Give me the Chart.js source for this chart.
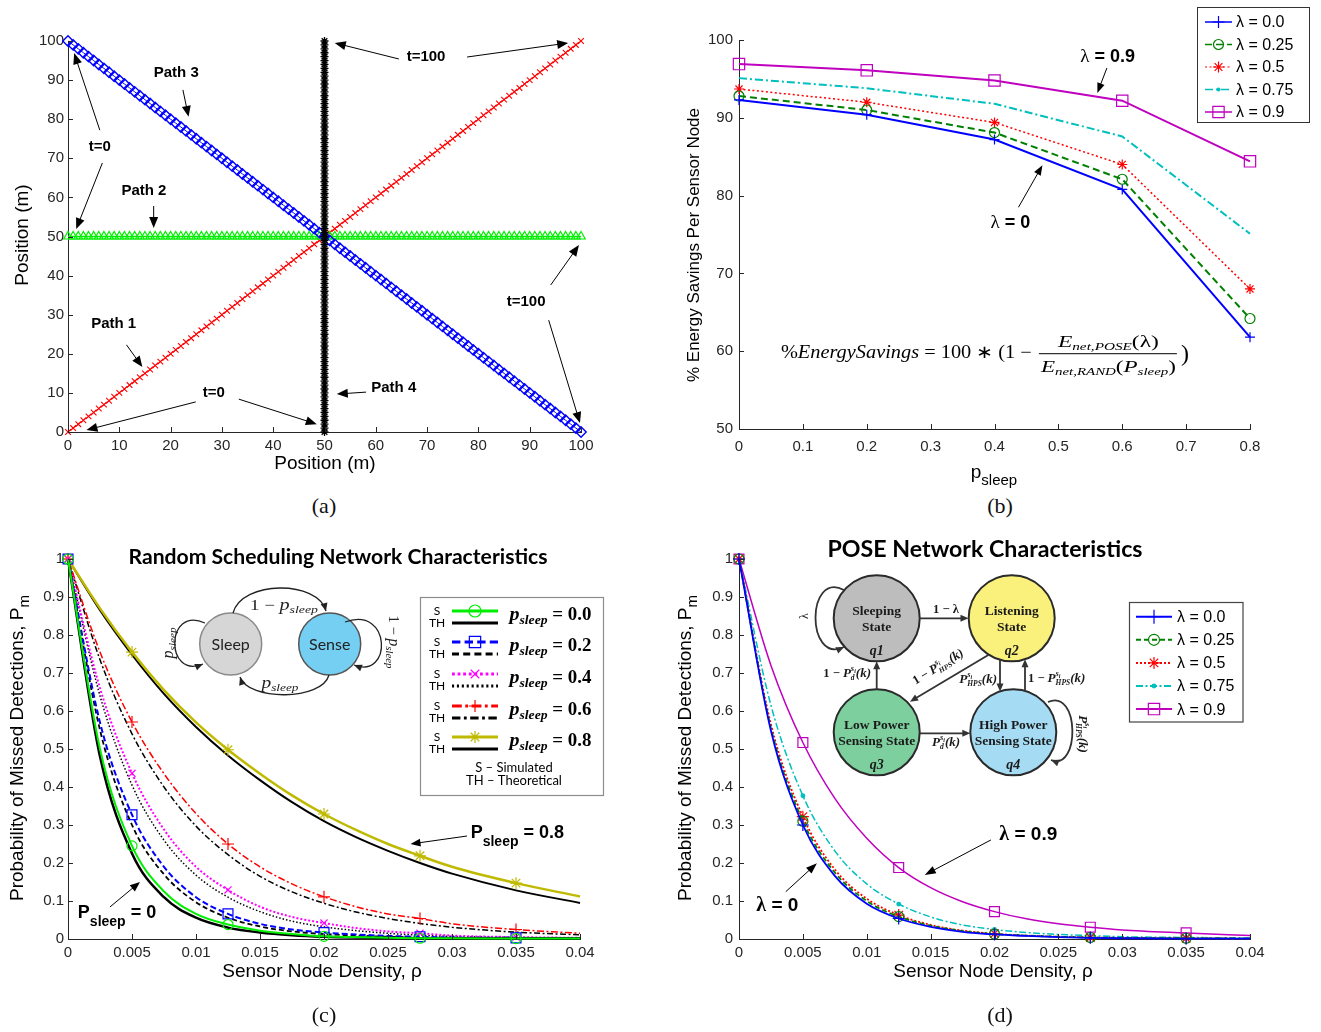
<!DOCTYPE html>
<html>
<head>
<meta charset="utf-8">
<title>Sensor network figures</title>
<script src="https://cdn.jsdelivr.net/npm/chart.js@4.4.1/dist/chart.umd.min.js"></script>
<style>
  html, body { margin: 0; padding: 0; background: #fff; }
  body { position: relative; width: 1321px; height: 1032px; overflow: hidden; }
  canvas { position: absolute; }
  .cap { position: absolute; font: 22px "Liberation Serif", "Times New Roman", serif; line-height: 1; transform: translate(-50%, -50%); color: #111; }
</style>
</head>
<body>
<canvas id="chartA" width="660" height="490" style="left:0;top:0"></canvas>
<canvas id="chartB" width="661" height="490" style="left:660px;top:0"></canvas>
<canvas id="chartC" width="660" height="512" style="left:0;top:520px"></canvas>
<canvas id="chartD" width="661" height="512" style="left:660px;top:520px"></canvas>
<div class="cap" style="left:324px;top:506px">(a)</div>
<div class="cap" style="left:1000px;top:506px">(b)</div>
<div class="cap" style="left:324px;top:1015px">(c)</div>
<div class="cap" style="left:1000px;top:1015px">(d)</div>
<script>
// ---- (a) target tracks: position sampled at t = 0..100 ----
const trackPos = [0,1,2,3,4,5,6,7,8,9,10,11,12,13,14,15,16,17,18,19,20,21,22,23,24,25,26,27,28,29,30,31,32,33,34,35,36,37,38,39,40,41,42,43,44,45,46,47,48,49,50,51,52,53,54,55,56,57,58,59,60,61,62,63,64,65,66,67,68,69,70,71,72,73,74,75,76,77,78,79,80,81,82,83,84,85,86,87,88,89,90,91,92,93,94,95,96,97,98,99,100];
const midLine = 50;
const posTicks = [0, 10, 20, 30, 40, 50, 60, 70, 80, 90, 100];

// ---- (b) energy savings ----
const pSleep = [0, 0.2, 0.4, 0.6, 0.8];
const saveLam00 = [92.3, 90.4, 87.2, 80.8, 61.8];
const saveLam025 = [92.8, 91.0, 88.1, 82.1, 64.2];
const saveLam05 = [93.7, 92.0, 89.4, 84.0, 68.0];
const saveLam075 = [95.1, 93.8, 91.8, 87.6, 75.1];
const saveLam09 = [96.9, 96.1, 94.8, 92.2, 84.4];
const pSleepTicks = [0, 0.1, 0.2, 0.3, 0.4, 0.5, 0.6, 0.7, 0.8];
const saveTicks = [50, 60, 70, 80, 90, 100];
const lamLabels = ['λ = 0.0', 'λ = 0.25', 'λ = 0.5', 'λ = 0.75', 'λ = 0.9'];

// ---- (c),(d) missed detections vs density ----
const density = [0, 0.0025, 0.005, 0.0075, 0.01, 0.0125, 0.015, 0.0175, 0.02, 0.0225, 0.025, 0.0275, 0.03, 0.035, 0.04];
const markerDensity = [0, 0.005, 0.0125, 0.02, 0.0275, 0.035];
const simP00 = [1, 0.50, 0.245, 0.125, 0.066, 0.038, 0.022, 0.013, 0.007, 0.005, 0.003, 0.002, 0.002, 0.001, 0.001];
const thP00  = [1, 0.48, 0.225, 0.110, 0.056, 0.030, 0.017, 0.010, 0.006, 0.004, 0.003, 0.002, 0.001, 0.001, 0.001];
const simP02 = [1, 0.57, 0.327, 0.190, 0.110, 0.066, 0.040, 0.025, 0.017, 0.012, 0.008, 0.006, 0.004, 0.003, 0.002];
const thP02  = [1, 0.55, 0.300, 0.170, 0.097, 0.056, 0.033, 0.020, 0.013, 0.009, 0.006, 0.004, 0.003, 0.002, 0.001];
const simP04 = [1, 0.66, 0.436, 0.288, 0.190, 0.129, 0.085, 0.058, 0.042, 0.029, 0.020, 0.015, 0.009, 0.005, 0.003];
const thP04  = [1, 0.64, 0.405, 0.260, 0.168, 0.110, 0.072, 0.047, 0.032, 0.022, 0.015, 0.010, 0.007, 0.004, 0.002];
const simP06 = [1, 0.755, 0.571, 0.435, 0.330, 0.250, 0.190, 0.145, 0.111, 0.085, 0.066, 0.054, 0.040, 0.025, 0.015];
const thP06  = [1, 0.735, 0.540, 0.400, 0.297, 0.222, 0.165, 0.124, 0.094, 0.071, 0.054, 0.041, 0.031, 0.018, 0.011];
const simP08 = [1, 0.870, 0.755, 0.655, 0.570, 0.498, 0.435, 0.378, 0.329, 0.287, 0.250, 0.219, 0.190, 0.147, 0.112];
const thP08  = [1, 0.865, 0.748, 0.645, 0.558, 0.483, 0.418, 0.360, 0.310, 0.268, 0.232, 0.200, 0.172, 0.128, 0.095];
const poseLam00  = [1, 0.548, 0.300, 0.166, 0.093, 0.054, 0.032, 0.019, 0.012, 0.008, 0.005, 0.003, 0.002, 0.001, 0.001];
const poseLam025 = [1, 0.555, 0.310, 0.175, 0.100, 0.059, 0.035, 0.021, 0.013, 0.009, 0.006, 0.004, 0.003, 0.002, 0.001];
const poseLam05  = [1, 0.565, 0.322, 0.183, 0.106, 0.063, 0.037, 0.022, 0.014, 0.009, 0.006, 0.004, 0.003, 0.002, 0.001];
const poseLam075 = [1, 0.615, 0.377, 0.232, 0.145, 0.092, 0.058, 0.037, 0.025, 0.017, 0.012, 0.009, 0.006, 0.004, 0.003];
const poseLam09  = [1, 0.720, 0.517, 0.370, 0.265, 0.188, 0.135, 0.098, 0.072, 0.053, 0.040, 0.031, 0.024, 0.016, 0.009];
const densityTicks = [0, 0.005, 0.01, 0.015, 0.02, 0.025, 0.03, 0.035, 0.04];
const pmTicks = [0, 0.1, 0.2, 0.3, 0.4, 0.5, 0.6, 0.7, 0.8, 0.9, 1];
const sleepLabels = ['0.0', '0.2', '0.4', '0.6', '0.8'];

const SANS = '"Liberation Sans", Arial, sans-serif';
const SERIF = '"Liberation Serif", "Times New Roman", serif';
const CAL = 'Lato, "Open Sans", sans-serif';
const INK = '#262626';
const NONE = 'rgba(0,0,0,0)';

// ---------- drawing helpers ----------
function txt(ctx, s, x, y, font, o = {}) {
    ctx.save();
    ctx.font = font; ctx.fillStyle = o.color || '#000';
    ctx.textAlign = o.align || 'left'; ctx.textBaseline = o.base || 'alphabetic';
    ctx.translate(x, y);
    if (o.rot) ctx.rotate(o.rot);
    if (o.w) ctx.scale(o.w / ctx.measureText(s).width, 1);
    ctx.fillText(s, 0, 0);
    ctx.restore();
}

// segments: {t, f, dy, mark, back}
function rich(ctx, segs, x, y, o = {}) {
    ctx.save();
    ctx.fillStyle = o.color || '#000'; ctx.textAlign = 'left'; ctx.textBaseline = 'alphabetic';
    let cx = 0, mark = 0, maxX = 0;
    const placed = segs.map(s => {
        ctx.font = s.f;
        const w = ctx.measureText(s.t).width;
        if (s.back) cx = mark;
        if (s.mark) mark = cx;
        const at = cx;
        cx += w; maxX = Math.max(maxX, cx);
        if (s.back) cx = maxX;
        return { s, at };
    });
    ctx.translate(x, y);
    if (o.rot) ctx.rotate(o.rot);
    if (o.w) ctx.scale(o.w / maxX, 1);
    const off = o.align === 'center' ? -maxX / 2 : o.align === 'right' ? -maxX : 0;
    placed.forEach(p => { ctx.font = p.s.f; ctx.fillText(p.s.t, off + p.at, p.s.dy || 0); });
    ctx.restore();
}

function head(ctx, x, y, ang, len, half) {
    const c = Math.cos(ang), s = Math.sin(ang);
    ctx.beginPath(); ctx.moveTo(x, y);
    ctx.lineTo(x - len * c - half * s, y - len * s + half * c);
    ctx.lineTo(x - len * c + half * s, y - len * s - half * c);
    ctx.closePath(); ctx.fill();
}
function arrow(ctx, x1, y1, x2, y2, len = 10, half = 3.8) {
    const ang = Math.atan2(y2 - y1, x2 - x1);
    ctx.beginPath(); ctx.moveTo(x1, y1);
    ctx.lineTo(x2 - 0.7 * len * Math.cos(ang), y2 - 0.7 * len * Math.sin(ang)); ctx.stroke();
    head(ctx, x2, y2, ang, len, half);
}
function bez(ctx, q, len = 8, half = 3.5) {
    ctx.beginPath(); ctx.moveTo(q[0], q[1]); ctx.bezierCurveTo(q[2], q[3], q[4], q[5], q[6], q[7]); ctx.stroke();
    head(ctx, q[6], q[7], Math.atan2(q[7] - q[5], q[6] - q[4]), len, half);
}
function circle(ctx, x, y, r, fill, stroke, lw) {
    ctx.save(); ctx.beginPath(); ctx.arc(x, y, r, 0, Math.PI * 2);
    ctx.fillStyle = fill; ctx.fill(); ctx.strokeStyle = stroke; ctx.lineWidth = lw; ctx.stroke(); ctx.restore();
}
function pix(chart) {
    const { x, y } = chart.scales;
    return (a, b) => [x.getPixelForValue(a), y.getPixelForValue(b)];
}
function sample(ctx, ds, x0, x1, y, r, lw, dashScale = 1) {
    ctx.save();
    ctx.strokeStyle = ds.borderColor; ctx.lineWidth = lw;
    ctx.setLineDash((ds.borderDash || []).map(v => v * dashScale));
    ctx.beginPath(); ctx.moveTo(x0, y); ctx.lineTo(x1, y); ctx.stroke();
    ctx.setLineDash([]);
    if (r) {
        ctx.strokeStyle = ds.pointBorderColor; ctx.fillStyle = ds.pointBackgroundColor;
        ctx.lineWidth = ds.pointBorderWidth;
        Chart.helpers.drawPoint(ctx, { pointStyle: ds.pointStyle, radius: r, rotation: 0, borderWidth: ds.pointBorderWidth }, (x0 + x1) / 2, y);
    }
    ctx.restore();
}

// MATLAB style: ticks point into the axes
const inTicks = {
    id: 'inTicks',
    afterDraw(chart) {
        const { ctx, chartArea: a, scales: { x, y } } = chart;
        ctx.save(); ctx.strokeStyle = INK; ctx.lineWidth = 1; ctx.beginPath();
        x.ticks.forEach(t => { const px = Math.round(x.getPixelForValue(t.value)) + 0.5; ctx.moveTo(px, a.bottom); ctx.lineTo(px, a.bottom - 5); });
        y.ticks.forEach(t => { const py = Math.round(y.getPixelForValue(t.value)) + 0.5; ctx.moveTo(a.left, py); ctx.lineTo(a.left + 5, py); });
        ctx.stroke(); ctx.restore();
    }
};

function axis(min, max, tickVals, size, horiz, pad) {
    return {
        type: 'linear', min, max,
        afterBuildTicks: s => { s.ticks = tickVals.map(v => ({ value: v })); },
        afterFit: s => { if (horiz) s.height = size; else s.width = size; },
        grid: { drawOnChartArea: false, drawTicks: false },
        border: { display: true, color: INK, width: 1 },
        ticks: { color: INK, padding: pad, autoSkip: false, maxRotation: 0, minRotation: 0,
                 font: { family: SANS, size: 15 }, callback: v => String(+v.toFixed(4)) }
    };
}

function series(xs, ys, o) {
    return {
        data: xs.map((x, i) => ({ x, y: ys[i] })),
        borderColor: o.color, borderWidth: o.lw || 1.5, borderDash: o.dash || [],
        cubicInterpolationMode: o.smooth ? 'monotone' : 'default', tension: 0,
        pointStyle: o.mark || 'circle',
        pointRadius: o.at ? (c => o.at.includes(xs[c.dataIndex]) ? o.r : 0) : (o.r || 0),
        pointBorderColor: o.color, pointBackgroundColor: o.fillPt ? o.color : NONE,
        pointBorderWidth: o.pw || 1.2, pointHoverRadius: 0, fill: false, clip: false
    };
}

function makeChart(id, pad, xs, ys, datasets, deco) {
    return new Chart(document.getElementById(id), {
        type: 'line',
        data: { datasets },
        options: {
            responsive: false, animation: false, devicePixelRatio: 1, events: [],
            layout: { padding: pad },
            plugins: { legend: { display: false }, tooltip: { enabled: false } },
            scales: { x: xs, y: ys }
        },
        plugins: [inTicks, { id: 'deco', afterDraw: deco }]
    });
}

// ---------- (a) ----------
function drawA(chart) {
    const ctx = chart.ctx, p = pix(chart);
    txt(ctx, 'Position (m)', 23, 235, `19px ${SANS}`, { align: 'center', base: 'middle', rot: -Math.PI / 2 });
    txt(ctx, 'Position (m)', 325, 464, `19px ${SANS}`, { align: 'center', base: 'middle' });
    const notes = [['Path 3', 21.1, 91.8], ['t=0', 6.2, 72.9], ['Path 2', 14.8, 61.6], ['Path 1', 8.9, 27.6],
                   ['t=0', 28.4, 10.0], ['Path 4', 63.5, 11.3], ['t=100', 69.8, 95.9], ['t=100', 89.3, 33.2]];
    notes.forEach(n => { const [x, y] = p(n[1], n[2]); txt(ctx, n[0], x, y, `bold 15px ${SANS}`, { align: 'center', base: 'middle' }); });
    const arrows = [[22.4, 87.5, 23.5, 80.6], [6.2, 77.2, 1.2, 96.9], [6.7, 68.8, 1.6, 51.9], [16.7, 57.8, 16.7, 52.2],
                    [11.4, 22.3, 14.5, 16.6], [24.9, 7.7, 3.6, 0.5], [33.3, 8.4, 48.5, 2.0], [58.1, 10.2, 52.4, 9.7],
                    [64.5, 95.4, 52.0, 99.5], [77.8, 95.9, 97.5, 99.5], [94.1, 37.6, 99.6, 47.8], [93.7, 28.6, 99.8, 2.3]];
    ctx.save(); ctx.strokeStyle = '#000'; ctx.fillStyle = '#000'; ctx.lineWidth = 1;
    arrows.forEach(a => { const [x1, y1] = p(a[0], a[1]); const [x2, y2] = p(a[2], a[3]); arrow(ctx, x1, y1, x2, y2, 11, 4.5); });
    ctx.restore();
}
const pathStyle = (data, color, style, r, lw, pw) => ({
    data, borderColor: color, borderWidth: lw, pointStyle: style, pointRadius: r, pointBorderColor: color,
    pointBackgroundColor: NONE, pointBorderWidth: pw, pointHoverRadius: 0, tension: 0, fill: false, clip: false
});
makeChart('chartA', { left: 8, top: 41, right: 79, bottom: 18 },
    axis(0, 100, posTicks, 40, true, 5), axis(0, 100, posTicks, 60, false, 4), [
        pathStyle(trackPos.map(t => ({ x: midLine, y: t })), '#000000', 'star', 4, 1, 1.3),
        pathStyle(trackPos.map((t, i) => ({ x: t, y: trackPos[trackPos.length - 1 - i] })), '#0000ff', 'rectRot', 5.2, 1, 1.4),
        pathStyle(trackPos.map(t => ({ x: t, y: midLine })), '#00ee00', 'triangle', 5, 1.5, 1.2),
        pathStyle(trackPos.map(t => ({ x: t, y: t })), '#ff0000', 'crossRot', 4, 1, 1.1)
    ], drawA);

// ---------- (b) ----------
const lamStyles = [
    { color: '#0000ff', lw: 2, mark: 'cross', r: 5, lr: 6 },
    { color: '#008000', lw: 2, dash: [7, 4], mark: 'circle', r: 5, lr: 5 },
    { color: '#ff0000', lw: 1.5, dash: [2, 2.5], mark: 'star', r: 5, lr: 5.5 },
    { color: '#00bfbf', lw: 2, dash: [8, 3, 2, 3], mark: 'circle', r: 0, lr: 1.5, fillPt: true },
    { color: '#bf00bf', lw: 2, mark: 'rect', r: 8, lr: 8 }
];
function drawB(chart) {
    const ctx = chart.ctx, p = pix(chart);
    txt(ctx, '% Energy Savings Per Sensor Node', 34, 245, `17px ${SANS}`, { align: 'center', base: 'middle', rot: -Math.PI / 2 });
    rich(ctx, [{ t: 'p', f: `19px ${SANS}` }, { t: 'sleep', f: `15px ${SANS}`, dy: 7 }], 334, 478, { align: 'center' });
    // legend
    ctx.save(); ctx.fillStyle = '#fff'; ctx.strokeStyle = '#333'; ctx.lineWidth = 1;
    ctx.fillRect(537.5, 7.5, 112, 115); ctx.strokeRect(537.5, 7.5, 112, 115); ctx.restore();
    chart.data.datasets.forEach((ds, i) => {
        const y = 22 + i * 22.5;
        sample(ctx, ds, 545, 572, y, lamStyles[i].lr, ds.borderWidth === 1.5 ? 1.2 : 1.5);
        txt(ctx, lamLabels[i], 576, y + 1, `16px ${SANS}`, { base: 'middle' });
    });
    // annotations
    let [x, y] = p(0.577, 97.2);
    rich(ctx, [{ t: 'λ', f: `19px ${SERIF}` }, { t: ' = 0.9', f: `bold 18px ${SANS}` }], x, y, { align: 'center' });
    [x, y] = p(0.425, 75.8);
    rich(ctx, [{ t: 'λ', f: `19px ${SERIF}` }, { t: ' = 0', f: `bold 18px ${SANS}` }], x, y, { align: 'center' });
    ctx.save(); ctx.strokeStyle = '#000'; ctx.fillStyle = '#000'; ctx.lineWidth = 1;
    let a = p(0.576, 96.4), b = p(0.561, 93.2); arrow(ctx, a[0], a[1], b[0], b[1], 10, 3.8);
    a = p(0.4375, 78.5); b = p(0.475, 83.9); arrow(ctx, a[0], a[1], b[0], b[1], 10, 3.8);
    ctx.restore();
    // formula
    const [fx, fy] = p(0.0656, 59.1);
    const it = s => `italic ${s}px ${SERIF}`, up = s => `${s}px ${SERIF}`;
    rich(ctx, [{ t: '%', f: up(18) }, { t: 'EnergySavings', f: it(18) }, { t: ' = 100 ∗ (1 − ', f: up(18) }], fx, fy, { w: 256 });
    rich(ctx, [{ t: 'E', f: it(17) }, { t: 'net,POSE', f: it(11), dy: 3 }, { t: '(λ)', f: up(17) }], fx + 327.5, fy - 11, { align: 'center', w: 101 });
    ctx.save(); ctx.strokeStyle = '#000'; ctx.lineWidth = 1; ctx.beginPath();
    ctx.moveTo(fx + 258, fy - 4.5); ctx.lineTo(fx + 396, fy - 4.5); ctx.stroke(); ctx.restore();
    rich(ctx, [{ t: 'E', f: it(17) }, { t: 'net,RAND', f: it(11), dy: 3 }, { t: '(', f: up(17) }, { t: 'P', f: it(17) },
               { t: 'sleep', f: it(11), dy: 3 }, { t: ')', f: up(17) }], fx + 327.5, fy + 14, { align: 'center', w: 135 });
    txt(ctx, ')', fx + 400, fy + 3, up(24));
}
makeChart('chartB', { left: 19, top: 40, right: 71, bottom: 21 },
    axis(0, 0.8, pSleepTicks, 40, true, 9), axis(50, 100, saveTicks, 60, false, 6),
    [saveLam00, saveLam025, saveLam05, saveLam075, saveLam09].map((v, i) => series(pSleep, v, lamStyles[i])),
    drawB);

// ---------- (c) ----------
const sleepStyles = [
    { color: '#00ee00', lw: 2, mark: 'circle', r: 5, lr: 6 },
    { color: '#000000', lw: 2.5 },
    { color: '#0000ff', lw: 2, dash: [6, 3], mark: 'rect', r: 7, lr: 8 },
    { color: '#000000', lw: 1.8, dash: [5, 3] },
    { color: '#ff00ff', lw: 2, dash: [2, 2], mark: 'crossRot', r: 5, lr: 6 },
    { color: '#000000', lw: 1.5, dash: [1.5, 2] },
    { color: '#ff0000', lw: 1.5, dash: [7, 2.5, 2, 2.5], mark: 'cross', r: 6, lr: 6 },
    { color: '#000000', lw: 1.5, dash: [6, 2.5, 2, 2.5] },
    { color: '#bfba00', lw: 2.5, mark: 'star', r: 6, lr: 6 },
    { color: '#000000', lw: 2 }
];
function drawC(chart) {
    const ctx = chart.ctx, p = pix(chart);
    txt(ctx, 'Random Scheduling Network Characteristics', 338, 37, `bold 21px ${CAL}`, { align: 'center', base: 'middle', w: 419 });
    rich(ctx, [{ t: 'Probability of Missed Detections, P', f: `19px ${SANS}` }, { t: 'm', f: `15px ${SANS}`, dy: 6 }], 23, 228, { align: 'center', rot: -Math.PI / 2 });
    txt(ctx, 'Sensor Node Density, ρ', 322, 452, `19px ${SANS}`, { align: 'center', base: 'middle' });
    // annotations
    const bf = s => `bold ${s}px ${SANS}`;
    let [x, y] = p(0.03146, 0.265);
    rich(ctx, [{ t: 'P', f: bf(18) }, { t: 'sleep', f: bf(14), dy: 8 }, { t: ' = 0.8', f: bf(18) }], x, y);
    [x, y] = p(0.00077, 0.0545);
    rich(ctx, [{ t: 'P', f: bf(18) }, { t: 'sleep', f: bf(14), dy: 8 }, { t: ' = 0', f: bf(18) }], x, y);
    ctx.save(); ctx.strokeStyle = '#000'; ctx.fillStyle = '#000'; ctx.lineWidth = 1;
    let a = p(0.03117, 0.271), b = p(0.02676, 0.250); arrow(ctx, a[0], a[1], b[0], b[1], 10, 4);
    a = p(0.00328, 0.0843); b = p(0.005625, 0.150); arrow(ctx, a[0], a[1], b[0], b[1], 10, 4);
    ctx.restore();
    // state diagram
    circle(ctx, 230.7, 124, 31, '#d6d6d6', '#8a8a8a', 1.5);
    circle(ctx, 329.7, 124, 31, '#74cff2', '#555555', 1.5);
    txt(ctx, 'Sleep', 230.7, 125, `16px ${CAL}`, { align: 'center', base: 'middle', color: '#222' });
    txt(ctx, 'Sense', 329.7, 125, `16px ${CAL}`, { align: 'center', base: 'middle', color: '#222' });
    ctx.save(); ctx.strokeStyle = '#222'; ctx.fillStyle = '#222'; ctx.lineWidth = 1.3;
    bez(ctx, [233, 93, 242, 60, 318, 60, 326, 91]);
    bez(ctx, [329, 155, 322, 181, 248, 181, 240, 157]);
    bez(ctx, [205, 103, 165, 85, 165, 160, 203, 144]);
    bez(ctx, [345, 102, 392, 85, 392, 160, 354, 145]);
    ctx.restore();
    const ps = [{ t: 'p', f: `italic 16px ${SERIF}` }, { t: 'sleep', f: `italic 11px ${SERIF}`, dy: 3 }];
    rich(ctx, [{ t: '1 − ', f: `15px ${SERIF}` }, ...ps], 284, 90, { align: 'center', w: 68, color: '#222' });
    rich(ctx, ps, 280, 168, { align: 'center', w: 37, color: '#222' });
    rich(ctx, ps, 173, 123, { align: 'center', w: 31, rot: -Math.PI / 2, color: '#222' });
    rich(ctx, [{ t: '1 − ', f: `15px ${SERIF}` }, ...ps], 389, 122, { align: 'center', w: 53, rot: Math.PI / 2, color: '#222' });
    // legend
    ctx.save(); ctx.fillStyle = '#fff'; ctx.strokeStyle = '#8c8c8c'; ctx.lineWidth = 1.2;
    ctx.fillRect(420.5, 77.5, 183, 198); ctx.strokeRect(420.5, 77.5, 183, 198); ctx.restore();
    const ds = chart.data.datasets;
    const rowY = [91, 122, 154, 186, 217];
    rowY.forEach((sy, i) => {
        txt(ctx, 'S', 437, sy, `12px ${CAL}`, { align: 'center', base: 'middle' });
        txt(ctx, 'TH', 437, sy + 12, `12px ${CAL}`, { align: 'center', base: 'middle' });
        sample(ctx, ds[2 * i], 452, 498, sy, sleepStyles[2 * i].lr, 3, 1.4);
        sample(ctx, ds[2 * i + 1], 452, 498, sy + 12, 0, 3, 1.4);
        rich(ctx, [{ t: 'p', f: `italic bold 19px ${SERIF}` }, { t: 'sleep', f: `italic bold 13px ${SERIF}`, dy: 4 },
                   { t: ' = ' + sleepLabels[i], f: `bold 18px ${SERIF}` }], 509.5, sy + 9, { w: 82 });
    });
    txt(ctx, 'S – Simulated', 514, 248, `13px ${CAL}`, { align: 'center', base: 'middle' });
    txt(ctx, 'TH – Theoretical', 514, 261, `13px ${CAL}`, { align: 'center', base: 'middle' });
}
makeChart('chartC', { left: 8, top: 39, right: 80, bottom: 53 },
    axis(0, 0.04, densityTicks, 40, true, 5), axis(0, 1, pmTicks, 60, false, 4),
    [simP00, thP00, simP02, thP02, simP04, thP04, simP06, thP06, simP08, thP08].map((v, i) =>
        series(density, v, Object.assign({ smooth: true, at: i % 2 === 0 ? markerDensity : null }, sleepStyles[i]))),
    drawC);

// ---------- (d) ----------
const poseStyles = [
    { color: '#0000ff', lw: 1.8, mark: 'cross', r: 6, lr: 7 },
    { color: '#008000', lw: 1.8, dash: [5, 3], mark: 'circle', r: 5, lr: 5.5 },
    { color: '#ff0000', lw: 1.8, dash: [2, 2], mark: 'star', r: 6, lr: 6 },
    { color: '#00bfbf', lw: 1.5, dash: [7, 2.5, 2, 2.5], mark: 'circle', r: 1.8, lr: 1.8, fillPt: true },
    { color: '#bf00bf', lw: 1.5, mark: 'rect', r: 7, lr: 8 }
];
function drawD(chart) {
    const ctx = chart.ctx, p = pix(chart);
    txt(ctx, 'POSE Network Characteristics', 325, 30, `bold 23px ${CAL}`, { align: 'center', base: 'middle', w: 315 });
    rich(ctx, [{ t: 'Probability of Missed Detections, P', f: `19px ${SANS}` }, { t: 'm', f: `15px ${SANS}`, dy: 6 }], 31, 228, { align: 'center', rot: -Math.PI / 2 });
    txt(ctx, 'Sensor Node Density, ρ', 333, 452, `19px ${SANS}`, { align: 'center', base: 'middle' });
    // annotations
    let [x, y] = p(0.02038, 0.2607);
    rich(ctx, [{ t: 'λ', f: `bold 20px ${SERIF}` }, { t: ' = 0.9', f: `bold 19px ${SANS}` }], x, y);
    [x, y] = p(0.001355, 0.0745);
    rich(ctx, [{ t: 'λ', f: `bold 20px ${SERIF}` }, { t: ' = 0', f: `bold 19px ${SANS}` }], x, y);
    ctx.save(); ctx.strokeStyle = '#000'; ctx.fillStyle = '#000'; ctx.lineWidth = 1;
    let a = p(0.01972, 0.2607), b = p(0.01454, 0.1686); arrow(ctx, a[0], a[1], b[0], b[1], 11, 4);
    a = p(0.003665, 0.1246); b = p(0.0061, 0.1994); arrow(ctx, a[0], a[1], b[0], b[1], 11, 4);
    ctx.restore();
    // state diagram
    const nodes = [[216.7, 98.3, '#bdbdbd', 'Sleeping', 'State', 'q1'], [351.7, 98.3, '#f9f17c', 'Listening', 'State', 'q2'],
                   [216.7, 212.3, '#7dcf9d', 'Low Power', 'Sensing State', 'q3'], [353.3, 212.3, '#a6dbf4', 'High Power', 'Sensing State', 'q4']];
    nodes.forEach(n => {
        circle(ctx, n[0], n[1], 43, n[2], '#2a2a2a', 2);
        txt(ctx, n[3], n[0], n[1] - 3, `bold 13.5px ${SERIF}`, { align: 'center', color: '#1a1a1a' });
        txt(ctx, n[4], n[0], n[1] + 13, `bold 13.5px ${SERIF}`, { align: 'center', color: '#1a1a1a' });
        txt(ctx, n[5], n[0], n[1] + 37, `italic bold 14px ${SERIF}`, { align: 'center', color: '#1a1a1a' });
    });
    ctx.save(); ctx.strokeStyle = '#333'; ctx.fillStyle = '#333'; ctx.lineWidth = 1.8;
    arrow(ctx, 260, 98.3, 308.5, 98.3, 8, 3.5);
    arrow(ctx, 340, 139.7, 340, 171.4, 8, 3.5);
    arrow(ctx, 365, 171, 365, 139.2, 8, 3.5);
    arrow(ctx, 328.3, 135, 250, 181.7, 8, 3.5);
    arrow(ctx, 216.7, 169.3, 216.7, 141.3, 8, 3.5);
    arrow(ctx, 259.7, 213.3, 310.3, 213.3, 8, 3.5);
    bez(ctx, [184, 70, 146, 50, 146, 145, 184, 127], 8, 3.5);
    bez(ctx, [388, 182, 420, 168, 420, 252, 391, 240], 8, 3.5);
    ctx.restore();
    const b12 = s => `bold ${s}px ${SERIF}`, bi = s => `italic bold ${s}px ${SERIF}`;
    const P = sub => [{ t: 'P', f: bi(13) }, { t: 's', f: bi(8.5), dy: -6, mark: true }, { t: 'i', f: bi(6), dy: -4 },
                      { t: sub, f: bi(7.5), dy: 3, back: true }, { t: '(k)', f: bi(13) }];
    const one = { t: '1 − ', f: b12(12.5) };
    const ink = '#1a1a1a';
    rich(ctx, [{ t: '1 − λ', f: b12(12.5) }], 286, 93, { align: 'center', color: ink });
    rich(ctx, P('HPS'), 337, 163, { align: 'right', color: ink });
    rich(ctx, [one, ...P('HPS')], 368, 162, { color: ink });
    rich(ctx, [one, ...P('HPS')], 280, 150, { align: 'center', rot: -31 * Math.PI / 180, color: ink });
    rich(ctx, [one, ...P('d')], 211, 157, { align: 'right', color: ink });
    rich(ctx, P('d'), 286, 226, { align: 'center', color: ink });
    rich(ctx, [{ t: 'λ', f: `12px ${SERIF}` }], 148, 96, { align: 'center', rot: -Math.PI / 2, color: ink });
    rich(ctx, P('HPS'), 419, 214, { align: 'center', rot: Math.PI / 2, color: ink });
    // legend
    ctx.save(); ctx.fillStyle = '#fff'; ctx.strokeStyle = '#444'; ctx.lineWidth = 1.2;
    ctx.fillRect(469.5, 82.5, 113.5, 119.5); ctx.strokeRect(469.5, 82.5, 113.5, 119.5); ctx.restore();
    chart.data.datasets.forEach((ds, i) => {
        const yy = 96.7 + i * 23.1;
        sample(ctx, ds, 476, 512, yy, poseStyles[i].lr, 2);
        txt(ctx, lamLabels[i], 517, yy + 1, `16px ${SANS}`, { base: 'middle' });
    });
}
makeChart('chartD', { left: 19, top: 39, right: 71, bottom: 53 },
    axis(0, 0.04, densityTicks, 40, true, 5), axis(0, 1, pmTicks, 60, false, 6),
    [poseLam00, poseLam025, poseLam05, poseLam075, poseLam09].map((v, i) =>
        series(density, v, Object.assign({ smooth: true, at: markerDensity }, poseStyles[i]))),
    drawD);
</script>
</body>
</html>
